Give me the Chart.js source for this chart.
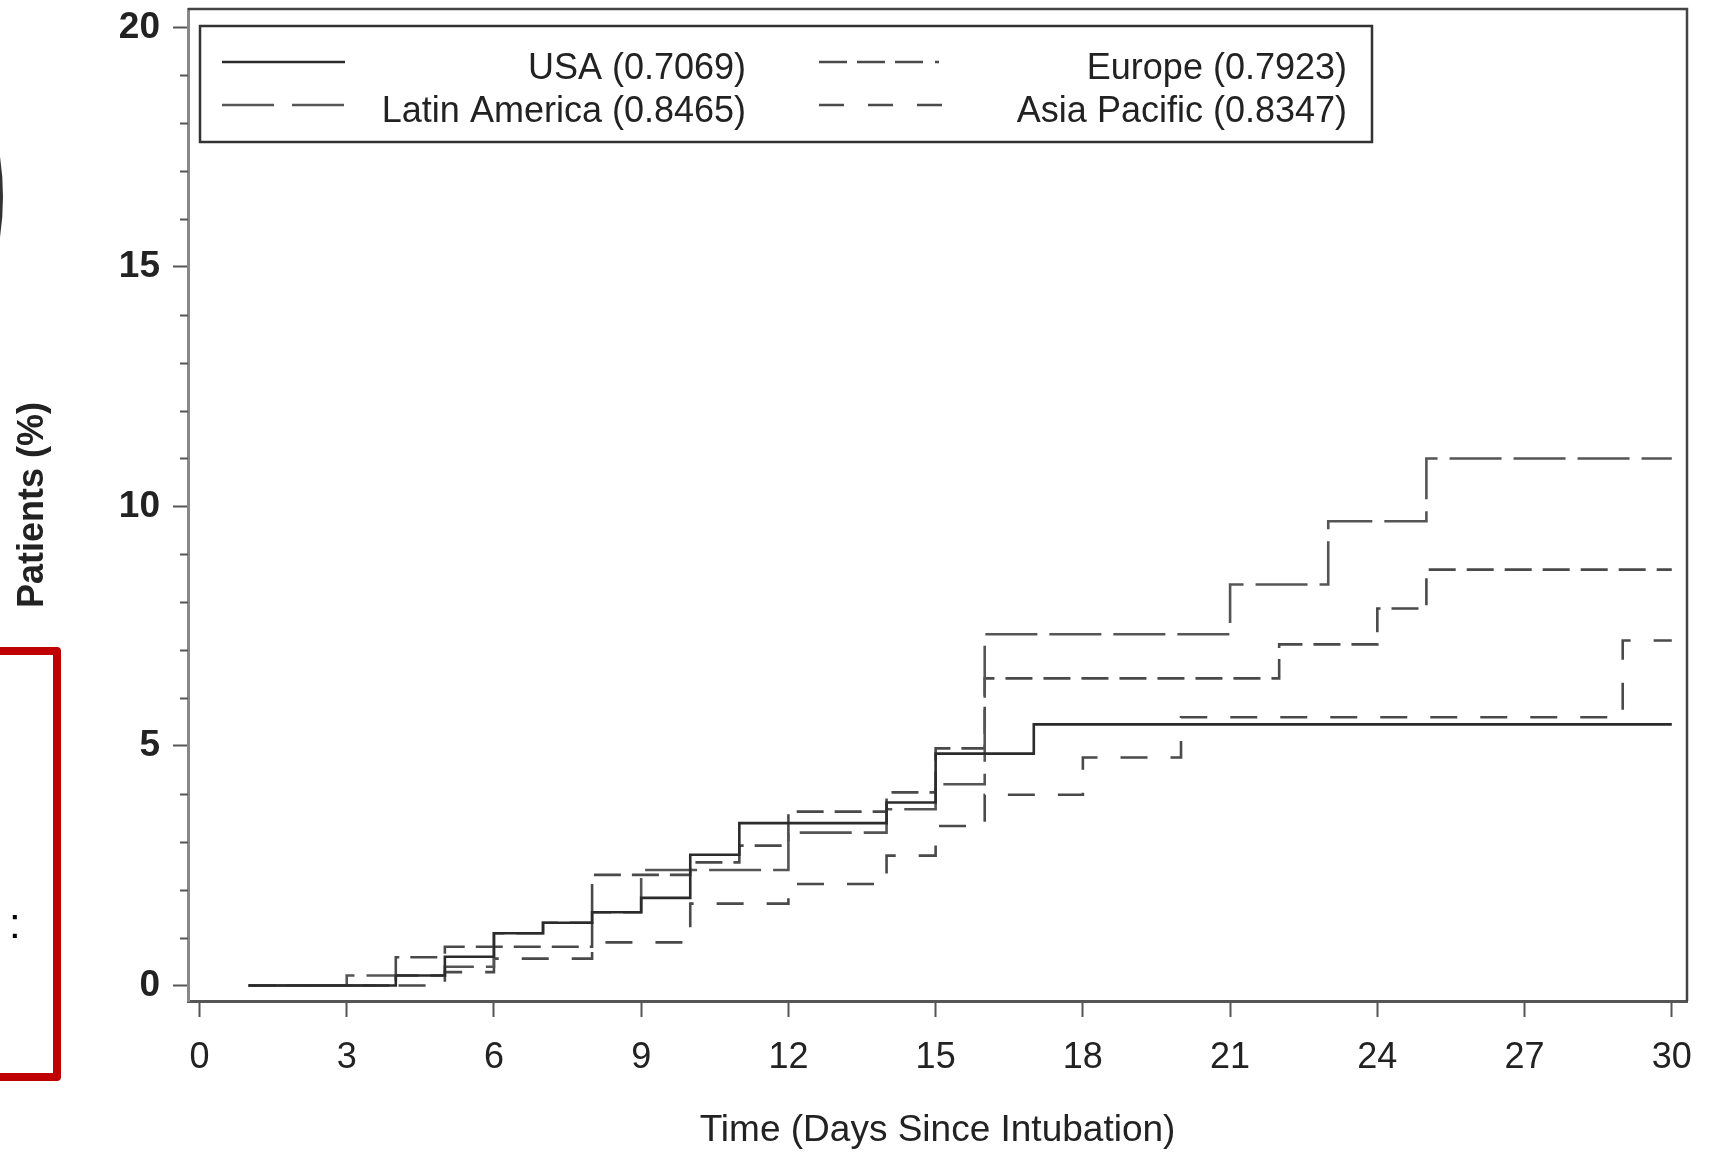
<!DOCTYPE html>
<html>
<head>
<meta charset="utf-8">
<title>Patients (%) by region</title>
<script src="https://cdn.jsdelivr.net/npm/chart.js@4.4.1/dist/chart.umd.min.js"></script>
<style>
    body { margin: 0; background: #fff; }
    #wrap { position: relative; width: 1713px; height: 1153px; overflow: hidden; background: #fff; }
    #arc {
        position: absolute; left: -537px; top: -73px;
        width: 534px; height: 534px;
        border: 3px solid #333; border-radius: 50%;
    }
    #redBox {
        position: absolute; left: -21px; top: 647px;
        width: 82px; height: 434px; box-sizing: border-box;
        border: 8px solid #c00000; border-radius: 4px;
    }
    #colon {
        position: absolute; left: 9px; top: 903px;
        font: 42px 'Liberation Sans', Arial, sans-serif; line-height: 42px; color: #000;
    }
</style>
</head>
<body>
<div id="wrap">
    <canvas id="kmChart"></canvas>
    <div id="arc"></div>
    <div id="redBox"></div>
    <span id="colon">:</span>
</div>
<script>
// Cumulative incidence (%) by region, step values
const usaDays = [1, 4, 5, 6, 7, 8, 9, 10, 11, 14, 15, 17, 30];
const usaPct = [0, 0.21, 0.6, 1.09, 1.31, 1.53, 1.83, 2.73, 3.39, 3.82, 4.84, 5.45, 5.45];

const latamDays = [1, 3, 5, 6, 7, 8, 9, 12, 14, 15, 16, 21, 23, 25, 30];
const latamPct = [0, 0.21, 0.39, 1.09, 1.31, 1.53, 2.41, 3.19, 3.68, 4.2, 7.33, 8.37, 9.69, 11.0, 11.0];

const europeDays = [1, 4, 5, 8, 10, 11, 12, 14, 15, 16, 22, 24, 25, 30];
const europePct = [0, 0.59, 0.81, 2.31, 2.57, 2.92, 3.63, 4.03, 4.95, 6.41, 7.12, 7.87, 8.68, 8.68];

const asiaDays = [1, 5, 6, 8, 10, 12, 14, 15, 16, 18, 20, 29, 30];
const asiaPct = [0, 0.28, 0.56, 0.9, 1.71, 2.12, 2.71, 3.33, 3.98, 4.76, 5.6, 7.2, 7.2];

const regionNames = ['USA', 'Latin America', 'Europe', 'Asia Pacific'];
const pValues = ['0.7069', '0.8465', '0.7923', '0.8347'];

const xTicks = [0, 3, 6, 9, 12, 15, 18, 21, 24, 27, 30];
const yTicks = [0, 5, 10, 15, 20];

const FONT = "'Liberation Sans', Arial, sans-serif";

function toPoints(days, pct) {
    return days.map((d, i) => ({ x: d, y: pct[i] }));
}

function makeDataset(i, days, pct, color, dash, legendDash) {
    return {
        label: `${regionNames[i]} (${pValues[i]})`,
        data: toPoints(days, pct),
        borderColor: color,
        borderWidth: 2.6,
        borderDash: dash,
        legendDash: legendDash,
        stepped: 'before',
        pointRadius: 0,
        fill: false,
    };
}

// Top/right frame and minor y ticks
const framePlugin = {
    id: 'frame',
    afterDraw(chart) {
        const { ctx, chartArea: a } = chart;
        const y = chart.scales.y;
        ctx.save();
        ctx.strokeStyle = '#444';
        ctx.lineWidth = 2.5;
        ctx.beginPath();
        ctx.moveTo(a.left, a.top);
        ctx.lineTo(a.right, a.top);
        ctx.lineTo(a.right, a.bottom);
        ctx.stroke();

        ctx.strokeStyle = '#555';
        ctx.lineWidth = 2;
        for (let v = 1; v < 20; v++) {
            if (v % 5 === 0) continue;
            const py = Math.round(y.getPixelForValue(v)) + 0.5;
            ctx.beginPath();
            ctx.moveTo(a.left - 8, py);
            ctx.lineTo(a.left, py);
            ctx.stroke();
        }
        ctx.restore();
    }
};

// Boxed legend, two columns, text right-aligned
const boxLegendPlugin = {
    id: 'boxLegend',
    afterDraw(chart) {
        const { ctx, chartArea: a } = chart;
        const bx = a.left + 12, by = a.top + 17;
        const bw = 1172, bh = 116;
        ctx.save();
        ctx.strokeStyle = '#333';
        ctx.lineWidth = 2.5;
        ctx.strokeRect(bx, by, bw, bh);

        const cols = [{ l0: 22, l1: 145, tx: 546 }, { l0: 619, l1: 742, tx: 1147 }];
        const rows = [40, 83];
        ctx.font = '36px ' + FONT;
        ctx.textAlign = 'right';
        ctx.textBaseline = 'middle';
        chart.data.datasets.forEach((ds, i) => {
            const c = cols[Math.floor(i / 2)];
            const ry = by + rows[i % 2];
            ctx.strokeStyle = ds.borderColor;
            ctx.lineWidth = ds.borderWidth;
            ctx.setLineDash(ds.legendDash);
            ctx.beginPath();
            ctx.moveTo(bx + c.l0, ry - 4);
            ctx.lineTo(bx + c.l1, ry - 4);
            ctx.stroke();
            ctx.setLineDash([]);
            ctx.fillStyle = '#222';
            ctx.fillText(ds.label, bx + c.tx, ry + 3);
        });
        ctx.restore();
    }
};

function drawChart() {
    const ctx = document.getElementById('kmChart').getContext('2d');

    new Chart(ctx, {
        type: 'line',
        data: {
            datasets: [
                makeDataset(0, usaDays, usaPct, '#2b2b2b', [], []),
                makeDataset(1, latamDays, latamPct, '#555', [52, 12], [52, 18]),
                makeDataset(2, europeDays, europePct, '#4a4a4a', [27, 11], [28, 10, 28, 10, 28, 12, 4, 10]),
                makeDataset(3, asiaDays, asiaPct, '#4a4a4a', [27, 23], [25, 24]),
            ]
        },
        options: {
            responsive: true,
            maintainAspectRatio: false,
            animation: false,
            devicePixelRatio: 1,
            layout: { padding: { left: 0, top: 9, right: 26, bottom: 0 } },
            plugins: {
                legend: { display: false },
                tooltip: { enabled: false },
            },
            scales: {
                x: {
                    type: 'linear',
                    min: -0.234,
                    max: 30.31,
                    afterBuildTicks: s => { s.ticks = xTicks.map(v => ({ value: v })); },
                    afterFit: s => {
                        s.height = 152;
                        s.paddingLeft = 0;
                        s.paddingRight = 0;
                    },
                    grid: {
                        drawOnChartArea: false,
                        tickLength: 16,
                        tickWidth: 2,
                        tickColor: '#555',
                    },
                    border: { display: true, color: '#555', width: 3 },
                    ticks: {
                        padding: 19,
                        maxRotation: 0,
                        color: '#222',
                        font: { family: FONT, size: 36 },
                    },
                    title: {
                        display: true,
                        text: 'Time (Days Since Intubation)',
                        color: '#222',
                        font: { family: FONT, size: 37 },
                        padding: { top: 0, bottom: 0 },
                    }
                },
                y: {
                    type: 'linear',
                    min: -0.3235,
                    max: 20.382,
                    afterBuildTicks: s => { s.ticks = yTicks.map(v => ({ value: v })); },
                    afterFit: s => {
                        s.width = 188;
                        s.paddingTop = 0;
                        s.paddingBottom = 0;
                    },
                    grid: {
                        drawOnChartArea: false,
                        tickLength: 15,
                        tickWidth: 2,
                        tickColor: '#555',
                    },
                    border: { display: true, color: '#888', width: 3 },
                    ticks: {
                        padding: 13,
                        color: '#222',
                        font: { family: FONT, size: 37, weight: 'bold' },
                    },
                    title: {
                        display: true,
                        text: 'Patients (%)',
                        color: '#222',
                        font: { family: FONT, size: 36, weight: 'bold' },
                        padding: { top: 11, bottom: 0 },
                    }
                }
            }
        },
        plugins: [framePlugin, boxLegendPlugin]
    });
}

drawChart();
</script>
</body>
</html>
